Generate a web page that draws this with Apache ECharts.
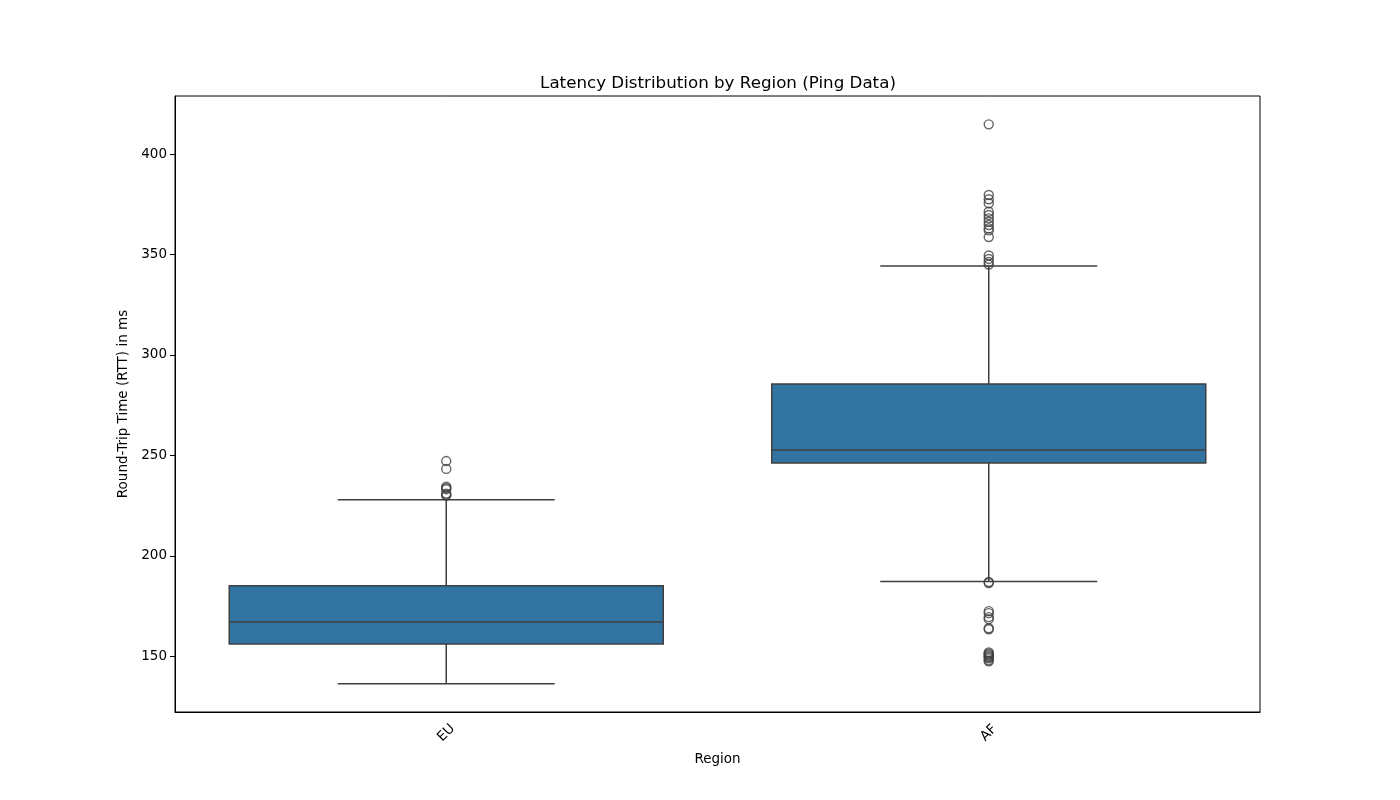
<!DOCTYPE html>
<html>
<head>
<meta charset="utf-8">
<script src="https://cdn.jsdelivr.net/npm/echarts@6/dist/echarts.min.js"></script>
<style>
  html, body { margin: 0; padding: 0; background: #fff; }
  #chart { width: 1400px; height: 800px; }
</style>
</head>
<body>
<div id="chart"></div>
<script>
// data
var categories = ['EU', 'AF']
var whiskerLow = [136.3, 187.3]
var q1 = [156.2, 246.2]
var median = [167.1, 252.7]
var q3 = [185.2, 285.5]
var whiskerHigh = [228.0, 344.3]
var euOutliers = [247.2, 243.3, 234.5, 233.8, 233.2, 231.0, 230.5, 230.0]
var afOutliers = [414.8, 379.6, 377.5, 375.5, 371.3, 369.7, 368.0, 366.3, 364.7, 363.0, 362.0,
  358.7, 349.5, 347.8, 346.3, 345.0, 187.0, 186.5, 172.5, 171.5, 169.5, 168.5, 164.0, 163.5,
  152.0, 151.5, 151.0, 150.5, 150.0, 149.5, 149.0, 148.0, 147.5]
var yTicks = [150, 200, 250, 300, 350, 400]

var boxColor = '#3274a1'
var edgeColor = '#3f3f3f'
var font = 'DejaVu Sans'

var boxData = categories.map(function (c, i) {
  return [i, whiskerLow[i], q1[i], median[i], q3[i], whiskerHigh[i]]
})
var outlierData = []
euOutliers.forEach(function (v) { outlierData.push([0, v]) })
afOutliers.forEach(function (v) { outlierData.push([1, v]) })

function renderBox (params, api) {
  var idx = api.value(0)
  var band = api.size([1, 0])[0]
  var boxW = band * 0.8
  var capW = band * 0.4
  var pLow = api.coord([idx, api.value(1)])
  var pQ1 = api.coord([idx, api.value(2)])
  var pMed = api.coord([idx, api.value(3)])
  var pQ3 = api.coord([idx, api.value(4)])
  var pHigh = api.coord([idx, api.value(5)])
  var x = pMed[0]
  var line = { stroke: edgeColor, lineWidth: 1.5 }
  return {
    type: 'group',
    children: [
      { type: 'line', shape: { x1: x, y1: pQ1[1], x2: x, y2: pLow[1] }, style: line },
      { type: 'line', shape: { x1: x, y1: pQ3[1], x2: x, y2: pHigh[1] }, style: line },
      { type: 'line', shape: { x1: x - capW / 2, y1: pLow[1], x2: x + capW / 2, y2: pLow[1] }, style: line },
      { type: 'line', shape: { x1: x - capW / 2, y1: pHigh[1], x2: x + capW / 2, y2: pHigh[1] }, style: line },
      {
        type: 'rect',
        shape: { x: x - boxW / 2, y: pQ3[1], width: boxW, height: pQ1[1] - pQ3[1] },
        style: { fill: boxColor, stroke: edgeColor, lineWidth: 1.5 }
      },
      { type: 'line', shape: { x1: x - boxW / 2, y1: pMed[1], x2: x + boxW / 2, y2: pMed[1] }, style: line }
    ]
  }
}

var chart = echarts.init(document.getElementById('chart'))
chart.setOption({
  animation: false,
  backgroundColor: '#fff',
  title: {
    text: 'Latency Distribution by Region (Ping Data)',
    left: 713,
    textAlign: 'center',
    top: 70,
    textStyle: { fontFamily: font, fontSize: 16.7, fontWeight: 'normal', color: '#000' }
  },
  grid: {
    left: 175, right: 140, top: 96, bottom: 88,
    show: true, borderColor: '#000', borderWidth: 1
  },
  xAxis: {
    type: 'category',
    data: categories,
    name: 'Region',
    nameLocation: 'middle',
    nameGap: 40,
    nameTextStyle: { fontFamily: font, fontSize: 13.5, color: '#000' },
    axisLine: { lineStyle: { color: '#000', width: 1 } },
    axisTick: { alignWithLabel: true, length: 5, lineStyle: { color: '#000' } },
    axisLabel: {
      rotate: 45, align: 'center', verticalAlign: 'middle', margin: 21,
      fontFamily: font, fontSize: 13.5, color: '#000'
    },
    splitLine: { show: false }
  },
  yAxis: {
    type: 'value',
    min: 122.3,
    max: 428.9,
    name: 'Round-Trip Time (RTT) in ms',
    nameLocation: 'middle',
    nameGap: 40,
    nameTextStyle: { fontFamily: font, fontSize: 13.5, color: '#000' },
    axisLine: { show: true, lineStyle: { color: '#000', width: 1 } },
    axisTick: { show: true, length: 5, customValues: yTicks, lineStyle: { color: '#000' } },
    axisLabel: { customValues: yTicks, margin: 8, fontFamily: font, fontSize: 13.5, color: '#000' },
    splitLine: { show: false }
  },
  series: [
    {
      type: 'custom',
      renderItem: renderBox,
      data: boxData,
      encode: { x: 0, y: [1, 2, 3, 4, 5] },
      z: 2
    },
    {
      type: 'scatter',
      data: outlierData,
      symbol: 'circle',
      symbolSize: 9,
      itemStyle: { color: 'rgba(0,0,0,0)', borderColor: edgeColor, borderWidth: 1.4 },
      z: 3
    }
  ]
})
</script>
</body>
</html>
